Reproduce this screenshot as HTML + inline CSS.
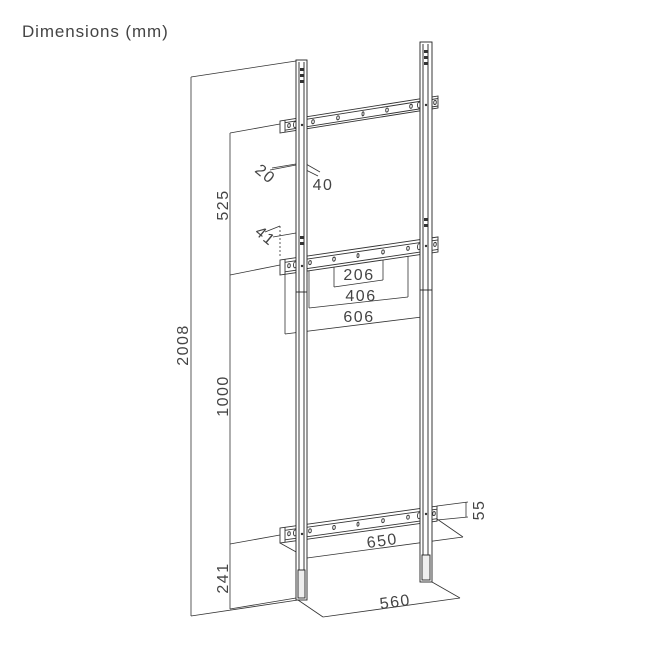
<!DOCTYPE html>
<html><head><meta charset="utf-8"><style>
html,body{margin:0;padding:0;background:#fff;}
svg{display:block}
text{font-family:"Liberation Sans",sans-serif;fill:#444;}
</style></head><body>
<svg width="660" height="660" viewBox="0 0 660 660" xmlns="http://www.w3.org/2000/svg">
<rect width="660" height="660" fill="#fff"/>
<text x="22" y="37" font-size="17" letter-spacing="0.9">Dimensions (mm)</text>

<g stroke="#333" stroke-width="0.8" fill="none">
<line x1="191" y1="77" x2="191" y2="616"/>
<line x1="191" y1="77" x2="296" y2="61"/>
<line x1="191" y1="616" x2="298" y2="600"/>
<line x1="230" y1="133" x2="230" y2="609"/>
<line x1="230" y1="133" x2="280" y2="124"/>
<line x1="230" y1="275" x2="280" y2="265"/>
<line x1="230" y1="544" x2="280" y2="535"/>
<line x1="230" y1="609" x2="296" y2="598"/>
<line x1="270" y1="170" x2="296" y2="165"/>
<line x1="272" y1="168" x2="296" y2="164"/>
<line x1="296" y1="165" x2="318" y2="176"/>
<line x1="306" y1="164" x2="320" y2="172"/>
<line x1="265" y1="232" x2="280" y2="226"/>
<line x1="273" y1="237" x2="296" y2="233"/>
<line x1="280" y1="226" x2="280" y2="258" stroke-dasharray="2,2"/>
<line x1="334" y1="262" x2="334" y2="287"/>
<line x1="383" y1="252" x2="383" y2="280"/>
<line x1="334" y1="287" x2="383" y2="280"/>
<line x1="309" y1="266" x2="309" y2="308"/>
<line x1="408" y1="248" x2="408" y2="297"/>
<line x1="309" y1="308" x2="408" y2="297"/>
<line x1="285" y1="272" x2="285" y2="334"/>
<line x1="285" y1="334" x2="430" y2="316"/>
<line x1="280" y1="543" x2="307" y2="558"/>
<line x1="307" y1="558" x2="463" y2="537"/>
<line x1="437" y1="519" x2="463" y2="537"/>
<line x1="437" y1="506" x2="468" y2="502"/>
<line x1="437" y1="520" x2="468" y2="517"/>
<line x1="466" y1="502" x2="466" y2="517"/>
<line x1="298" y1="600" x2="323" y2="617"/>
<line x1="323" y1="617" x2="460" y2="598"/>
<line x1="432" y1="582" x2="460" y2="598"/>
</g>

<g stroke="#333" stroke-width="0.9" fill="#fff">
<g transform="matrix(1,-0.158,0,1,0,165.2)">
<rect x="280" y="0" width="158" height="12"/>
<line x1="285" y1="0" x2="285" y2="12"/><line x1="285" y1="2.5" x2="438" y2="2.5"/><line x1="285" y1="10" x2="438" y2="10"/>
<ellipse cx="289" cy="6" rx="1.3" ry="2"/><ellipse cx="295" cy="6" rx="1.5" ry="3"/><ellipse cx="313" cy="6" rx="1.3" ry="2"/><ellipse cx="338" cy="6" rx="1.3" ry="2"/><ellipse cx="363" cy="6" rx="1" ry="2"/><ellipse cx="387" cy="6" rx="1.3" ry="2"/><ellipse cx="411" cy="6" rx="1.3" ry="2"/><ellipse cx="419" cy="6" rx="1.5" ry="3"/><ellipse cx="435" cy="6" rx="1.3" ry="2"/>
</g>
<g transform="matrix(1,-0.146,0,1,0,300.9)">
<rect x="280" y="0" width="158" height="15"/>
<line x1="285" y1="0" x2="285" y2="15"/><line x1="285" y1="3" x2="438" y2="3"/><line x1="285" y1="12.5" x2="438" y2="12.5"/>
<ellipse cx="289" cy="7" rx="1.3" ry="2"/><ellipse cx="295" cy="7" rx="1.5" ry="3"/><ellipse cx="310" cy="7" rx="1.3" ry="2"/><ellipse cx="334" cy="7" rx="1.3" ry="2"/><ellipse cx="358" cy="7" rx="1" ry="2"/><ellipse cx="383" cy="7" rx="1.3" ry="2"/><ellipse cx="408" cy="7" rx="1.3" ry="2"/><ellipse cx="419" cy="7" rx="1.5" ry="3"/><ellipse cx="435" cy="7" rx="1.3" ry="2"/>
</g>
<g transform="matrix(1,-0.139,0,1,0,566.9)">
<rect x="280" y="0" width="157" height="15"/>
<line x1="285" y1="0" x2="285" y2="15"/><line x1="285" y1="3" x2="437" y2="3"/><line x1="285" y1="12.5" x2="437" y2="12.5"/>
<ellipse cx="289" cy="7" rx="1.3" ry="2"/><ellipse cx="295" cy="7" rx="1.5" ry="3"/><ellipse cx="310" cy="7" rx="1.3" ry="2"/><ellipse cx="334" cy="7" rx="1.3" ry="2"/><ellipse cx="358" cy="7" rx="1" ry="2"/><ellipse cx="383" cy="7" rx="1.3" ry="2"/><ellipse cx="408" cy="7" rx="1.3" ry="2"/><ellipse cx="419" cy="7" rx="1.5" ry="3"/><ellipse cx="434" cy="7" rx="1.3" ry="2"/>
</g>
</g>

<g stroke="#222" stroke-width="0.9" fill="#fff">
<rect x="296" y="60" width="11" height="540"/>
<line x1="299" y1="62" x2="299" y2="598"/><line x1="304" y1="62" x2="304" y2="598"/>
<line x1="296" y1="292" x2="307" y2="292"/>
<rect x="298" y="570" width="7" height="28" fill="#eee"/>
<rect x="420" y="42" width="12" height="540"/>
<line x1="423" y1="44" x2="423" y2="580"/><line x1="428" y1="44" x2="428" y2="580"/>
<line x1="420" y1="290" x2="432" y2="290"/>
<rect x="422" y="555" width="8" height="25" fill="#eee"/>
</g>
<g fill="#333">
<rect x="300" y="68" width="4" height="3"/><rect x="300" y="74" width="4" height="3"/><rect x="300" y="80" width="4" height="3"/>
<rect x="424" y="50" width="4" height="3"/><rect x="424" y="56" width="4" height="3"/><rect x="424" y="62" width="4" height="3"/>
<rect x="300" y="236" width="4" height="3"/><rect x="300" y="242" width="4" height="3"/>
<rect x="424" y="218" width="4" height="3"/><rect x="424" y="224" width="4" height="3"/>
<circle cx="302" cy="125" r="1.2"/><circle cx="426" cy="105" r="1.2"/>
<circle cx="302" cy="266" r="1.2"/><circle cx="426" cy="246" r="1.2"/>
<circle cx="302" cy="534" r="1.2"/><circle cx="426" cy="514" r="1.2"/>
</g>

<g font-size="16" letter-spacing="1.5">
<text transform="translate(188,345) rotate(-90)" text-anchor="middle">2008</text>
<text transform="translate(228,205) rotate(-90)" text-anchor="middle">525</text>
<text transform="translate(228,396) rotate(-90)" text-anchor="middle">1000</text>
<text transform="translate(228,578) rotate(-90)" text-anchor="middle">241</text>
<text transform="translate(262,178) rotate(40)" text-anchor="middle">20</text>
<text x="323" y="190" text-anchor="middle">40</text>
<text transform="translate(262,240) rotate(40)" text-anchor="middle">41</text>
<text x="359" y="280" text-anchor="middle">206</text>
<text x="361" y="301" text-anchor="middle">406</text>
<text x="359" y="322" text-anchor="middle">606</text>
<text transform="translate(383,546) rotate(-8)" text-anchor="middle">650</text>
<text transform="translate(484,510) rotate(-90)" text-anchor="middle">55</text>
<text transform="translate(396,607) rotate(-8)" text-anchor="middle">560</text>
</g>
</svg>
</body></html>
